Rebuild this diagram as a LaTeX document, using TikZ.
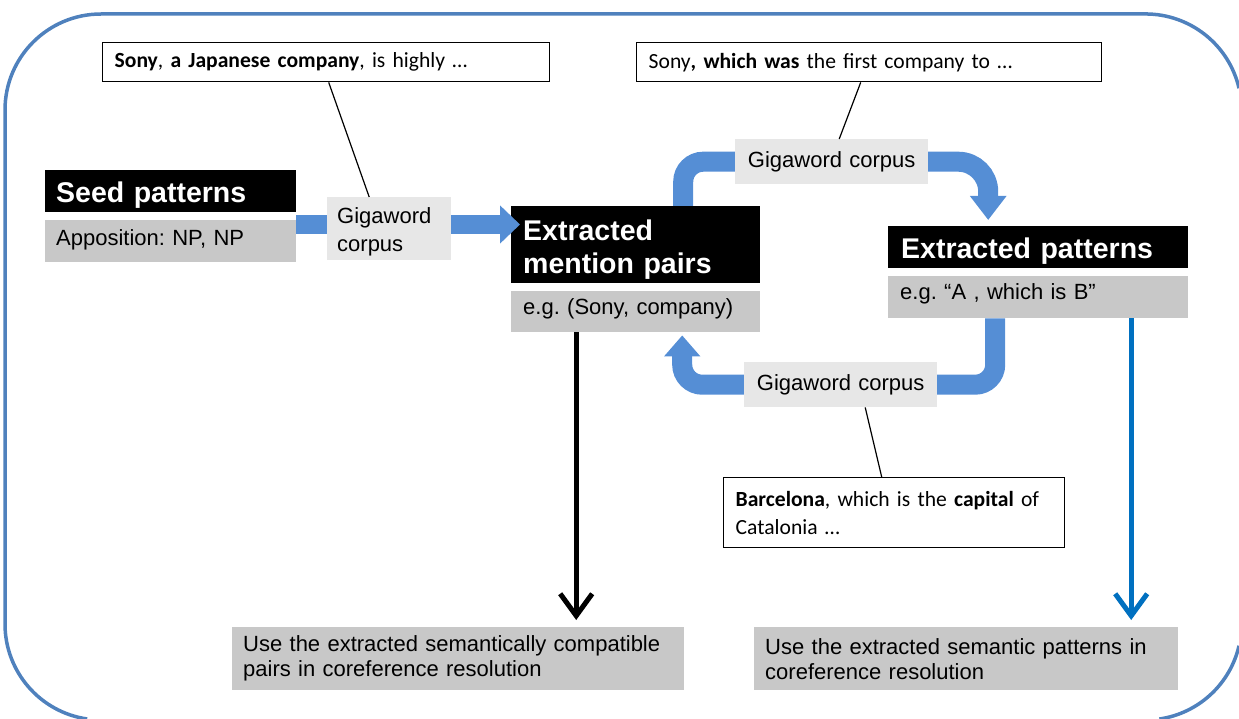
\documentclass[tikz,border=0pt]{standalone}
\usepackage{fontspec}
\setmainfont{Liberation Sans}
\newfontfamily\calfont{Carlito}
\usetikzlibrary{arrows.meta,calc}
\pgfdeclarelayer{background}
\pgfsetlayers{background,main}
\definecolor{bandblue}{RGB}{85,142,213}
\definecolor{frameblue}{RGB}{79,129,189}
\definecolor{arrowblue}{RGB}{0,112,192}
\definecolor{boxgray}{RGB}{200,200,200}
\definecolor{boxlight}{RGB}{231,231,231}
\newcommand{\dn}[1]{\rule[-#1]{0pt}{#1}}
\begin{document}
\frenchspacing
\begin{tikzpicture}[x=1pt,y=-1pt,
  base/.style={anchor=north west, inner xsep=11pt, inner ysep=0pt, align=left},
  blk/.style={base, fill=black, text=white, font=\fontsize{28.5}{33}\selectfont\bfseries},
  gbox/.style={base, fill=boxgray, font=\fontsize{22}{25}\selectfont},
  lbox/.style={base, fill=boxlight, font=\fontsize{22}{28}\selectfont},
  cbox/.style={base, draw=black, line width=1.4pt, fill=white, inner xsep=12pt, font=\calfont\fontsize{21.6}{28}\selectfont},
  band/.style={draw=bandblue, line width=20pt},
  framestyle/.style={draw=frameblue, line width=3.5pt},
  thinline/.style={draw=black, line width=1.2pt},
  bigtip/.style={-{Straight Barb[length=22pt,width=32pt]}}
]
\useasboundingbox (0,0) rectangle (1239,719);

% outer frame: a rounded rectangle cut by the picture edge (right and bottom run off the page)
\draw[framestyle] (1239,88.2) arc[start angle=346.9, end angle=270, radius=96]
  -- (101,14) arc[start angle=270, end angle=180, radius=96]
  -- (5,624) arc[start angle=180, end angle=98.3, radius=96];
\draw[framestyle] (1239,645.8) arc[start angle=13.1, end angle=81.7, radius=96];

% boxes
\node[blk, text width=229pt, minimum height=42pt, text height=22pt, text depth=0pt] (seed) at (45,170) {Seed patterns};
\node[gbox, text width=229pt, minimum height=42pt] (seedsub) at (45,220) {Apposition: NP, NP\dn{7pt}};
\node[lbox, text width=104pt, minimum height=63pt, inner xsep=10pt] (giga1) at (327,197) {\rule{0pt}{22pt}Gigaword\\corpus};
\node[blk, text width=225pt, minimum height=77pt, inner xsep=12pt] (pairs) at (511,206) {\rule{0pt}{30pt}Extracted\\mention pairs};
\node[gbox, text width=225pt, minimum height=41pt, inner xsep=12pt] (pairsex) at (511,291) {e.g. (Sony, company)\dn{11pt}};
\node[blk, text width=274pt, minimum height=42pt, inner xsep=13pt, text height=23pt, text depth=0pt] (pat) at (888,226) {Extracted patterns};
\node[gbox, text width=276pt, minimum height=42pt, inner xsep=12pt] (patex) at (888,276) {e.g. “A , which is B”\dn{12pt}};
\node[lbox, text width=171pt, minimum height=45pt, align=center] (giga2) at (735,139) {Gigaword corpus};
\node[lbox, text width=171pt, minimum height=45pt, align=center] (giga3) at (744,362) {Gigaword corpus};
\node[cbox, text width=423pt, minimum height=39pt] (call1) at (102,42) {\textbf{Sony}, \textbf{a Japanese company}, is highly …};
\node[cbox, text width=441pt, minimum height=39pt] (call2) at (636,42) {Sony\textbf{, which was} the first company to …};
\node[cbox, text width=317pt, minimum height=70pt] (call3) at (723,477) {\textbf{Barcelona}, which is the \textbf{capital} of\\Catalonia …};
\node[gbox, text width=430pt, minimum height=63pt] (use1) at (232,627) {Use the extracted semantically compatible\\pairs in coreference resolution};
\node[gbox, text width=402pt, minimum height=63pt] (use2) at (754,627) {Use the extracted semantic patterns in\\coreference resolution};

% loop bands behind the corpus boxes
\begin{pgfonlayer}{background}
  \coordinate (t1) at ([xshift=47.5pt]pairs.north);
  \coordinate (t2) at ([xshift=-50pt,yshift=6pt]pat.north);
  \draw[band, -{Triangle[length=24pt,width=35pt]}] (t1) [rounded corners=20pt] |- (giga2.west) [rounded corners=30pt] -| (t2);
  \coordinate (b1) at ([xshift=-43pt]patex.south);
  \coordinate (b2) at ([xshift=46.5pt,yshift=-3pt]pairsex.south);
  \draw[band, -{Triangle[length=21pt,width=35pt]}] (b1) [rounded corners=20pt] |- (giga3.east) -| (b2);
\end{pgfonlayer}

% seed -> gigaword -> pairs
\coordinate (a1) at ([yshift=-4.5pt]seedsub.north east);
\draw[band, line width=19pt] (a1) -- (a1 -| giga1.west);
\draw[band, line width=19pt, -{Triangle[length=20pt,width=37pt]}, shorten >=-9pt] (a1 -| giga1.east) -- (a1 -| pairs.west);

% output arrows
\coordinate (k1) at ([xshift=-59.5pt]pairsex.south);
\draw[line width=5pt, bigtip, shorten >=7pt] (k1) -- (k1 |- use1.north);
\coordinate (k2) at ([xshift=93pt]patex.south);
\draw[arrowblue, line width=5pt, bigtip, shorten >=7pt] (k2) -- (k2 |- use2.north);

% callout lines
\draw[thinline] ([xshift=2.5pt]call1.south) -- ([xshift=-20pt]giga1.north);
\draw[thinline] ([xshift=-8.5pt]call2.south) -- ([xshift=7.5pt]giga2.north);
\draw[thinline] ([xshift=24.5pt]giga3.south) -- ([xshift=-12.5pt]call3.north);
\end{tikzpicture}
\end{document}
